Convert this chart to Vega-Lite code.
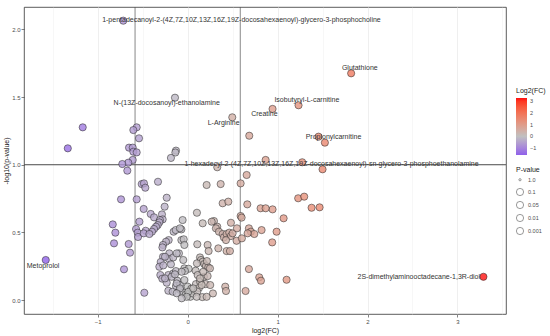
{
  "$schema": "https://vega.github.io/schema/vega-lite/v6.json",
  "width": 482,
  "height": 307,
  "autosize": {"type": "none"},
  "padding": {"left": 24, "top": 7, "right": 44, "bottom": 22},
  "background": "white",
  "config": {
    "font": "Liberation Sans",
    "view": {"stroke": "#333333", "strokeWidth": 0.8},
    "axis": {
      "domain": false,
      "gridColor": "#ebebeb",
      "tickColor": "#333333",
      "tickSize": 3,
      "tickWidth": 0.6,
      "labelFontSize": 6,
      "labelColor": "#4d4d4d",
      "labelPadding": 1,
      "titleFontSize": 7,
      "titleFontWeight": "normal",
      "titleColor": "#1a1a1a"
    }
  },
  "datasets": {
    "vlines": [{"x": -0.585}, {"x": 0.585}],
    "pts": [
      {"fc": -0.716, "logp": 2.064, "name": "1-pentadecanoyl-2-(4Z,7Z,10Z,13Z,16Z,19Z-docosahexaenoyl)-glycero-3-phosphocholine", "lx": 0.598, "ly": 2.07},
      {"fc": 1.818, "logp": 1.675, "name": "Glutathione", "lx": 1.914, "ly": 1.712},
      {"fc": -0.141, "logp": 1.495, "name": "N-(13Z-docosanoyl)-ethanolamine", "lx": -0.233, "ly": 1.454},
      {"fc": 1.233, "logp": 1.439, "name": "Isobutyryl-L-carnitine", "lx": 1.326, "ly": 1.478},
      {"fc": 0.944, "logp": 1.412, "name": "Creatine", "lx": 0.853, "ly": 1.372},
      {"fc": 0.496, "logp": 1.35, "name": "L-Arginine", "lx": 0.4, "ly": 1.31},
      {"fc": 1.455, "logp": 1.207, "name": "Propionylcarnitine", "lx": 1.622, "ly": 1.207},
      {"fc": 1.274, "logp": 1.018, "name": "1-hexadecyl-2-(4Z,7Z,10Z,13Z,16Z,19Z-docosahexaenoyl)-sn-glycero-3-phosphoethanolamine", "lx": 1.6, "ly": 1.004},
      {"fc": -1.578, "logp": 0.296, "name": "Metoprolol", "lx": -1.608, "ly": 0.251},
      {"fc": 3.289, "logp": 0.172, "name": "2S-dimethylaminooctadecane-1,3R-diol", "lx": 2.57, "ly": 0.172},
      {"fc": 0.685, "logp": 1.214}, {"fc": -1.167, "logp": 1.276}, {"fc": -1.333, "logp": 1.121},
      {"fc": -0.567, "logp": 1.276}, {"fc": -0.604, "logp": 1.256}, {"fc": -0.541, "logp": 1.195},
      {"fc": -0.652, "logp": 1.126}, {"fc": -0.611, "logp": 1.126}, {"fc": -0.604, "logp": 1.096},
      {"fc": -0.567, "logp": 1.091}, {"fc": -0.611, "logp": 1.035}, {"fc": -0.66, "logp": 1.015},
      {"fc": -0.727, "logp": 1.005}, {"fc": -0.13, "logp": 1.104}, {"fc": -0.137, "logp": 1.09},
      {"fc": -0.186, "logp": 1.05}, {"fc": 0.867, "logp": 1.035}, {"fc": 0.329, "logp": 0.981},
      {"fc": 1.526, "logp": 1.163}, {"fc": 1.5, "logp": 0.966}, {"fc": 1.229, "logp": 0.752},
      {"fc": 1.296, "logp": 0.764}, {"fc": 1.378, "logp": 0.682}, {"fc": 1.467, "logp": 0.685},
      {"fc": 1.067, "logp": 0.604}, {"fc": 0.944, "logp": 0.67}, {"fc": 0.989, "logp": 0.505},
      {"fc": 0.94, "logp": 0.426}, {"fc": 1.1, "logp": 0.15},
      {"fc": -0.671, "logp": 0.956}, {"fc": -0.741, "logp": 0.744}, {"fc": -0.833, "logp": 0.559},
      {"fc": -0.804, "logp": 0.498}, {"fc": -0.819, "logp": 0.419}, {"fc": -0.656, "logp": 0.414},
      {"fc": -0.641, "logp": 0.35}, {"fc": -0.708, "logp": 0.227}, {"fc": -0.567, "logp": 0.744},
      {"fc": -0.511, "logp": 0.857}, {"fc": -0.486, "logp": 0.862}, {"fc": -0.471, "logp": 0.83},
      {"fc": -0.33, "logp": 0.874}, {"fc": -0.233, "logp": 0.756}, {"fc": -0.256, "logp": 0.69},
      {"fc": -0.489, "logp": 0.673}, {"fc": -0.411, "logp": 0.636}, {"fc": -0.374, "logp": 0.611},
      {"fc": -0.286, "logp": 0.633}, {"fc": -0.278, "logp": 0.596}, {"fc": -0.308, "logp": 0.591},
      {"fc": -0.315, "logp": 0.574}, {"fc": -0.333, "logp": 0.554}, {"fc": -0.352, "logp": 0.542},
      {"fc": -0.374, "logp": 0.525}, {"fc": -0.397, "logp": 0.505}, {"fc": -0.537, "logp": 0.579},
      {"fc": -0.574, "logp": 0.525}, {"fc": -0.556, "logp": 0.498}, {"fc": -0.552, "logp": 0.466},
      {"fc": -0.467, "logp": 0.512}, {"fc": -0.489, "logp": 0.493}, {"fc": -0.426, "logp": 0.488},
      {"fc": -0.482, "logp": 0.054}, {"fc": -0.156, "logp": 0.505}, {"fc": -0.133, "logp": 0.517},
      {"fc": -0.056, "logp": 0.591}, {"fc": -0.07, "logp": 0.522}, {"fc": -0.07, "logp": 0.443},
      {"fc": -0.044, "logp": 0.449}, {"fc": -0.037, "logp": 0.407}, {"fc": -0.211, "logp": 0.443},
      {"fc": -0.241, "logp": 0.431}, {"fc": -0.274, "logp": 0.407}, {"fc": -0.281, "logp": 0.389},
      {"fc": -0.204, "logp": 0.345}, {"fc": -0.208, "logp": 0.303}, {"fc": -0.274, "logp": 0.32},
      {"fc": -0.3, "logp": 0.281}, {"fc": -0.16, "logp": 0.315}, {"fc": -0.097, "logp": 0.345},
      {"fc": -0.315, "logp": 0.246}, {"fc": -0.271, "logp": 0.256}, {"fc": -0.186, "logp": 0.264},
      {"fc": -0.304, "logp": 0.185}, {"fc": -0.282, "logp": 0.158}, {"fc": -0.215, "logp": 0.185},
      {"fc": -0.16, "logp": 0.197}, {"fc": -0.13, "logp": 0.214}, {"fc": -0.115, "logp": 0.143},
      {"fc": -0.233, "logp": 0.128}, {"fc": -0.215, "logp": 0.069}, {"fc": -0.167, "logp": 0.062},
      {"fc": -0.13, "logp": 0.104}, {"fc": -0.086, "logp": 0.111}, {"fc": -0.037, "logp": 0.234},
      {"fc": 0.011, "logp": 0.231}, {"fc": -0.037, "logp": 0.148}, {"fc": -0.082, "logp": 0.074},
      {"fc": -0.052, "logp": 0.054}, {"fc": -0.022, "logp": 0.039}, {"fc": 0.011, "logp": 0.044},
      {"fc": 0.029, "logp": 0.024}, {"fc": 0.056, "logp": 0.049}, {"fc": 0.0, "logp": 0.099},
      {"fc": 0.04, "logp": 0.084}, {"fc": 0.092, "logp": 0.118}, {"fc": 0.126, "logp": 0.089},
      {"fc": 0.107, "logp": 0.062}, {"fc": 0.163, "logp": 0.022}, {"fc": 0.137, "logp": 0.138},
      {"fc": 0.089, "logp": 0.217}, {"fc": 0.111, "logp": 0.185}, {"fc": 0.181, "logp": 0.172},
      {"fc": 0.2, "logp": 0.118}, {"fc": 0.251, "logp": 0.111}, {"fc": 0.281, "logp": 0.049},
      {"fc": 0.222, "logp": 0.177}, {"fc": 0.103, "logp": 0.645}, {"fc": 0.167, "logp": 0.567},
      {"fc": 0.222, "logp": 0.407}, {"fc": 0.233, "logp": 0.362}, {"fc": 0.107, "logp": 0.412},
      {"fc": 0.137, "logp": 0.315}, {"fc": 0.148, "logp": 0.296}, {"fc": 0.167, "logp": 0.283},
      {"fc": 0.184, "logp": 0.266}, {"fc": 0.203, "logp": 0.251}, {"fc": 0.229, "logp": 0.242},
      {"fc": 0.248, "logp": 0.234}, {"fc": 0.214, "logp": 0.288}, {"fc": 0.103, "logp": 0.271},
      {"fc": 0.292, "logp": 0.584}, {"fc": 0.329, "logp": 0.542}, {"fc": 0.314, "logp": 0.53},
      {"fc": 0.348, "logp": 0.505}, {"fc": 0.211, "logp": 0.85}, {"fc": 0.367, "logp": 0.857},
      {"fc": 0.389, "logp": 0.715}, {"fc": 0.452, "logp": 0.727}, {"fc": 0.656, "logp": 0.924},
      {"fc": 0.589, "logp": 0.862}, {"fc": 0.663, "logp": 0.707}, {"fc": 0.481, "logp": 0.571},
      {"fc": 0.589, "logp": 0.621}, {"fc": 0.6, "logp": 0.609}, {"fc": 0.389, "logp": 0.488},
      {"fc": 0.403, "logp": 0.463}, {"fc": 0.433, "logp": 0.488}, {"fc": 0.463, "logp": 0.498},
      {"fc": 0.481, "logp": 0.473}, {"fc": 0.5, "logp": 0.493}, {"fc": 0.548, "logp": 0.53},
      {"fc": 0.544, "logp": 0.438}, {"fc": 0.603, "logp": 0.456}, {"fc": 0.426, "logp": 0.443},
      {"fc": 0.341, "logp": 0.382}, {"fc": 0.433, "logp": 0.362}, {"fc": 0.47, "logp": 0.362},
      {"fc": 0.418, "logp": 0.099}, {"fc": 0.426, "logp": 0.067}, {"fc": 0.644, "logp": 0.067},
      {"fc": 0.681, "logp": 0.53}, {"fc": 0.703, "logp": 0.505}, {"fc": 0.741, "logp": 0.488},
      {"fc": 0.667, "logp": 0.493}, {"fc": 0.822, "logp": 0.517}, {"fc": 0.811, "logp": 0.678},
      {"fc": 0.867, "logp": 0.678}, {"fc": 0.681, "logp": 0.229}, {"fc": 0.796, "logp": 0.168},
      {"fc": 0.815, "logp": 0.143}, {"fc": -0.252, "logp": 0.32}, {"fc": -0.122, "logp": 0.345},
      {"fc": -0.049, "logp": 0.296}, {"fc": -0.03, "logp": 0.215}, {"fc": -0.067, "logp": 0.209},
      {"fc": -0.252, "logp": 0.16}, {"fc": -0.178, "logp": 0.172}, {"fc": -0.141, "logp": 0.19},
      {"fc": -0.122, "logp": 0.123}, {"fc": -0.086, "logp": 0.086}, {"fc": -0.122, "logp": 0.05},
      {"fc": 0.007, "logp": 0.061}, {"fc": -0.011, "logp": 0.024}, {"fc": -0.067, "logp": 0.013},
      {"fc": 0.062, "logp": 0.086}, {"fc": 0.156, "logp": 0.111}, {"fc": 0.137, "logp": 0.16},
      {"fc": 0.173, "logp": 0.209}, {"fc": 0.211, "logp": 0.024}, {"fc": 0.1, "logp": 0.024},
      {"fc": 0.267, "logp": 0.579}, {"fc": -0.086, "logp": 0.53}
    ]
  },
  "layer": [
    {
      "data": {"name": "vlines"},
      "mark": {"type": "rule", "color": "#555555", "strokeWidth": 0.7},
      "encoding": {
        "x": {"field": "x", "type": "quantitative", "title": "log2(FC)"}
      }
    },
    {
      "data": {"name": "vlines"},
      "mark": {"type": "rule", "color": "#555555", "strokeWidth": 0.7},
      "encoding": {
        "y": {"datum": 1, "type": "quantitative"}
      }
    },
    {
      "data": {"name": "pts"},
      "mark": {"type": "circle", "stroke": "#222222", "strokeWidth": 0.6, "strokeOpacity": 0.85, "fillOpacity": 0.8},
      "encoding": {
        "x": {
          "field": "fc", "type": "quantitative", "title": "log2(FC)",
          "scale": {"domain": [-1.82, 3.54], "nice": false, "zero": false},
          "axis": {
            "values": [-1.5, -1, -0.5, 0, 0.5, 1, 1.5, 2, 2.5, 3, 3.5],
            "labelExpr": "datum.value % 1 == 0 ? format(datum.value, 'd') : ''",
            "gridWidth": {"condition": {"test": "datum.value % 1 == 0", "value": 0.8}, "value": 0.4},
            "tickOpacity": {"condition": {"test": "datum.value % 1 == 0", "value": 1}, "value": 0},
            "titlePadding": 2
          }
        },
        "y": {
          "field": "logp", "type": "quantitative", "title": "-log10(p-value)",
          "scale": {"domain": [-0.103, 2.165], "nice": false, "zero": false},
          "axis": {
            "values": [0, 0.25, 0.5, 0.75, 1, 1.25, 1.5, 1.75, 2],
            "labelExpr": "(datum.value * 2) % 1 == 0 ? format(datum.value, '.1f') : ''",
            "gridWidth": {"condition": {"test": "(datum.value * 2) % 1 == 0", "value": 0.8}, "value": 0.4},
            "tickOpacity": {"condition": {"test": "(datum.value * 2) % 1 == 0", "value": 1}, "value": 0},
            "titlePadding": 2
          }
        },
        "color": {
          "field": "fc", "type": "quantitative",
          "scale": {"domain": [-1.6, 0, 3.3], "range": ["#8f60ea", "#c0c0c0", "#ff1010"]},
          "legend": {
            "title": "Log2(FC)",
            "orient": "none", "legendX": 492, "legendY": 80,
            "values": [-1, 0, 1, 2, 3],
            "gradientLength": 57, "gradientThickness": 11,
            "gradientStrokeWidth": 0,
            "titleFontSize": 7, "titleFontWeight": "normal", "titleColor": "#1a1a1a", "titlePadding": 4,
            "labelFontSize": 5.5, "labelColor": "#4d4d4d", "labelOffset": 3
          }
        },
        "size": {
          "field": "logp", "type": "quantitative",
          "scale": {"type": "threshold", "domain": [0.001], "range": [5, 52]},
          "legend": {
            "title": "P-value",
            "orient": "none", "legendX": 492, "legendY": 159,
            "values": [0, 1, 1.30103, 2, 3],
            "labelExpr": "datum.value == 0 ? '1.0' : datum.value == 1 ? '0.1' : datum.value < 1.5 ? '0.05' : datum.value == 2 ? '0.01' : '0.001'",
            "symbolType": "circle", "symbolFillColor": "transparent",
            "symbolStrokeColor": "#555555", "symbolStrokeWidth": 0.6,
            "titleFontSize": 7, "titleFontWeight": "normal", "titleColor": "#1a1a1a", "titlePadding": 4,
            "labelFontSize": 5.5, "labelColor": "#4d4d4d", "rowPadding": 3
          }
        }
      }
    },
    {
      "data": {"name": "pts"},
      "transform": [{"filter": "isValid(datum.name)"}],
      "mark": {"type": "text", "fontSize": 7, "color": "#333333", "align": "center", "baseline": "middle"},
      "encoding": {
        "x": {"field": "lx", "type": "quantitative", "title": "log2(FC)"},
        "y": {"field": "ly", "type": "quantitative", "title": "-log10(p-value)"},
        "text": {"field": "name"}
      }
    }
  ]
}
